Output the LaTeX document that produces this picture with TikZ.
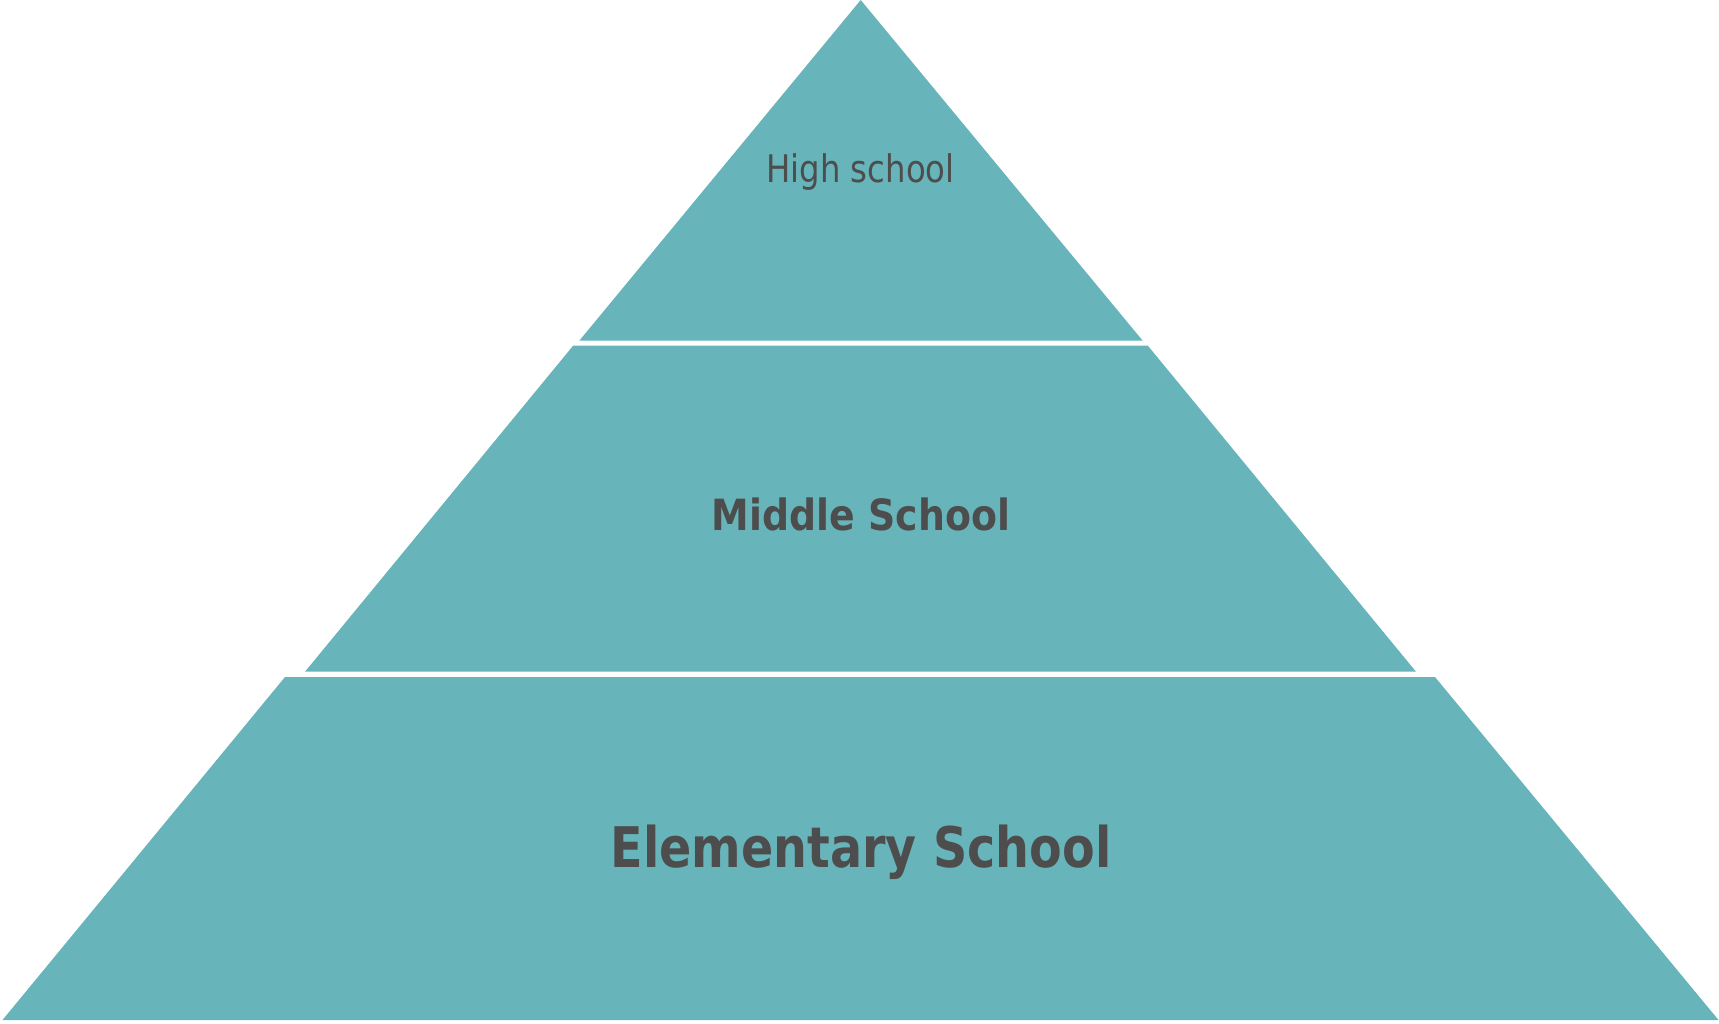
\documentclass[tikz,border=0pt]{standalone}
\usepackage{fontspec}
\newfontfamily\pyr[FakeStretch=0.85]{DejaVu Sans}
\newfontfamily\pyrw[FakeStretch=0.88]{DejaVu Sans}
\definecolor{tealfill}{HTML}{67B5BA}
\definecolor{txtgray}{HTML}{4D4D4D}
\tikzset{
  tier/.style={fill=tealfill, draw=none},
  lbl/.style={anchor=base, inner sep=0pt, text=txtgray},
}
\begin{document}
\begin{tikzpicture}[x=1pt,y=-1pt]
\useasboundingbox (0,0) rectangle (1719,1023);
% top tier
\fill[tier] (860.7,0) -- (1142.7,340.7) -- (579.3,340.7) -- cycle;
% middle tier
\fill[tier] (573.3,345.5) -- (1147.7,345.5) -- (1416,671.7) -- (305,671.7) -- cycle;
% bottom tier
\fill[tier] (285,677) -- (1435,677) -- (1718.5,1020) -- (2.5,1020) -- cycle;
% labels
\node[lbl, font=\pyr\fontsize{38}{44}\selectfont] (high) at (860.5,182.7) {High school};
\node[lbl, font=\pyrw\bfseries\fontsize{43}{50}\selectfont] (middle) at (861,530.5) {Middle School};
\node[lbl, font=\pyr\bfseries\fontsize{56}{64}\selectfont] (elem) at (861,867) {Elementary School};
\end{tikzpicture}
\end{document}
